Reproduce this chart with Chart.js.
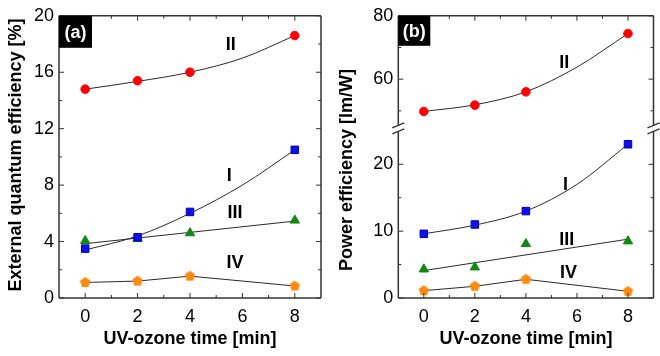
<!DOCTYPE html>
<html><head><meta charset="utf-8">
<script src="https://cdn.jsdelivr.net/npm/chart.js@4.4.1/dist/chart.umd.min.js"></script>
<style>
html,body{margin:0;padding:0;background:#fff;}
#wrap{position:relative;width:660px;height:356px;overflow:hidden;background:#fff;}
canvas{position:absolute;top:0;}
</style></head><body>
<div id="wrap">
<canvas id="ca" width="330" height="356" style="left:0"></canvas>
<canvas id="cb" width="330" height="356" style="left:330px"></canvas>
</div>
<script>
// ---- data ----
const xValues = [0, 2, 4, 8];
const fitX = [0, 8];
const curveX = [0, 2, 4, 6, 8];
// (a) external quantum efficiency [%]
const eqeI = [3.5, 4.3, 6.1, 10.5];
const eqeIfit = [3.4, 4.4, 6.0, 8.0, 10.5];
const eqeII = [14.8, 15.4, 16.0, 18.6];
const eqeIIfit = [14.8, 15.35, 16.0, 17.0, 18.6];
const eqeIII = [4.05, 4.2, 4.6, 5.5];
const eqeIIIfit = [3.85, 5.45];
const eqeIV = [1.1, 1.2, 1.55, 0.85];
// (b) power efficiency [lm/W]
const peI = [9.6, 11.0, 13.0, 23.0];
const peIfit = [9.6, 10.9, 13.0, 17.0, 23.0];
const peII = [49.8, 51.8, 56.0, 74.4];
const peIIfit = [49.8, 51.9, 56.0, 63.8, 74.4];
const peIII = [4.3, 4.6, 8.1, 8.5];
const peIIIfit = [4.1, 8.8];
const peIV = [1.1, 1.75, 2.8, 1.0];
// ticks
const xTicks = [0, 2, 4, 6, 8];
const xMinorTicks = [1, 3, 5, 7];
const eqeTicks = [0, 4, 8, 12, 16, 20];
const eqeMinorTicks = [2, 6, 10, 14, 18];
const peLowTicks = [0, 10, 20];
const peLowMinorTicks = [5, 15];
const peUpTicks = [60, 80];
const peUpMinorTicks = [50, 70];
const seriesNames = ['I', 'II', 'III', 'IV'];

const FONT = "'Liberation Sans', Arial, sans-serif";
Chart.defaults.font.family = FONT;
Chart.defaults.color = '#000';

function pentagon(color, r) {
  const c = document.createElement('canvas');
  const s = Math.ceil(r * 2 + 2); c.width = s; c.height = s;
  const g = c.getContext('2d');
  g.beginPath();
  for (let i = 0; i < 5; i++) {
    const a = -Math.PI / 2 + i * 2 * Math.PI / 5;
    const px = s / 2 + r * Math.cos(a), py = s / 2 + r * Math.sin(a);
    if (i) g.lineTo(px, py); else g.moveTo(px, py);
  }
  g.closePath(); g.fillStyle = color; g.fill();
  return c;
}
const pts = (ys, xs) => ys.map((y, i) => ({ x: (xs || xValues)[i], y }));
const setTicks = arr => s => { s.ticks = arr.map(v => ({ value: v })); };

const LINE = '#2a2a2a';
const RED = '#ff0000', BLUE = '#1010ee', GREEN = '#118811', ORANGE = '#ff8a10';
const pent = pentagon(ORANGE, 5.5);

function makeDatasets(d, ids) {
  const yLow = ids.low, yUp = ids.up;
  const fit = (data, yAxisID, label, mono) => ({ label, data, yAxisID, showLine: true, borderColor: LINE, borderWidth: 1,
    pointRadius: 0, cubicInterpolationMode: mono ? 'monotone' : 'default', tension: 0 });
  return [
    { label: seriesNames[1], data: pts(d.II), yAxisID: yUp, showLine: false, pointStyle: 'circle', pointRadius: 4.3,
      pointBackgroundColor: RED, pointBorderColor: RED, pointBorderWidth: 1 },
    { label: seriesNames[0], data: pts(d.I), yAxisID: yLow, showLine: false, pointStyle: 'rect', pointRadius: 5.3,
      pointBackgroundColor: BLUE, pointBorderColor: '#0000aa', pointBorderWidth: 1 },
    { label: seriesNames[2], data: pts(d.III), yAxisID: yLow, showLine: false, pointStyle: 'triangle', pointRadius: 5.4,
      pointBackgroundColor: GREEN, pointBorderColor: GREEN, pointBorderWidth: 1 },
    { label: seriesNames[3], data: pts(d.IV), yAxisID: yLow, showLine: true, borderColor: LINE, borderWidth: 1,
      tension: 0, pointStyle: pent, pointRadius: 5.5 },
    fit(pts(d.IIfit, curveX), yUp, seriesNames[1] + ' fit', true),
    fit(pts(d.Ifit, curveX), yLow, seriesNames[0] + ' fit', true),
    fit(pts(d.IIIfit, fitX), yLow, seriesNames[2] + ' fit', false)
  ];
}

// ---- plugins ----
const framePlugin = {
  id: 'frame',
  afterDatasetsDraw(chart, args, o) {
    const { ctx, chartArea: ca } = chart;
    const xs = chart.scales.x;
    ctx.save();
    ctx.strokeStyle = '#333';
    const line = (x1, y1, x2, y2) => { ctx.beginPath(); ctx.moveTo(x1, y1); ctx.lineTo(x2, y2); ctx.stroke(); };
    ctx.lineWidth = 1;
    xTicks.forEach(v => { const p = xs.getPixelForValue(v); line(p, ca.bottom, p, ca.bottom - 5); line(p, ca.top, p, ca.top + 5); });
    xMinorTicks.forEach(v => { const p = xs.getPixelForValue(v); line(p, ca.bottom, p, ca.bottom - 3); line(p, ca.top, p, ca.top + 3); });
    o.yScales.forEach(d => {
      const s = chart.scales[d.id];
      d.major.forEach(v => { const p = s.getPixelForValue(v); line(ca.left, p, ca.left + 5, p); line(ca.right, p, ca.right - 5, p); });
      d.minor.forEach(v => { const p = s.getPixelForValue(v); line(ca.left, p, ca.left + 3, p); line(ca.right, p, ca.right - 3, p); });
    });
    ctx.lineWidth = 1.5;
    line(ca.left, ca.top, ca.right, ca.top);
    line(ca.left, ca.bottom, ca.right, ca.bottom);
    if (o.breakAt) {
      const yb = chart.scales[o.breakAt].top;
      const g = 3;
      [ca.left, ca.right].forEach(x => {
        line(x, ca.top, x, yb - g);
        line(x, yb + g, x, ca.bottom);
        ctx.lineWidth = 1.2;
        line(x - 6, yb - g + 2, x + 6, yb - g - 3);
        line(x - 6, yb + g + 2, x + 6, yb + g - 3);
        ctx.lineWidth = 1.5;
      });
    } else {
      line(ca.left, ca.top, ca.left, ca.bottom);
      line(ca.right, ca.top, ca.right, ca.bottom);
    }
    // panel tag
    ctx.fillStyle = '#000';
    ctx.fillRect(ca.left, ca.top, o.tag.w, o.tag.h);
    ctx.fillStyle = '#fff';
    ctx.font = 'bold 18px ' + FONT;
    ctx.textAlign = 'center'; ctx.textBaseline = 'middle';
    ctx.fillText(o.tag.text, ca.left + o.tag.w / 2, ca.top + o.tag.h / 2 + 1);
    // series labels
    ctx.fillStyle = '#000';
    ctx.font = 'bold 18px ' + FONT;
    o.labels.forEach(l => {
      ctx.fillText(l.text, xs.getPixelForValue(l.x), chart.scales[l.scale].getPixelForValue(l.y));
    });
    // y title
    ctx.save();
    ctx.translate(o.yTitle.x, o.yTitle.y);
    ctx.rotate(-Math.PI / 2);
    ctx.font = 'bold ' + o.yTitle.size + 'px ' + FONT;
    ctx.fillText(o.yTitle.text, 0, 0);
    ctx.restore();
    ctx.restore();
  }
};

const xScale = {
  type: 'linear', min: -1, max: 9,
  afterBuildTicks: setTicks(xTicks),
  afterFit: s => { s.height = 58; },
  grid: { display: false, drawTicks: false }, border: { display: false },
  ticks: { font: { size: 18 }, color: '#000', padding: 8 },
  title: { display: true, text: 'UV-ozone time [min]', color: '#000', font: { size: 18, weight: 'bold' }, padding: { top: 4, bottom: 6 } }
};
function yScale(min, max, ticks, width, extra) {
  return Object.assign({
    type: 'linear', position: 'left', min, max,
    afterBuildTicks: setTicks(ticks),
    afterFit: s => { s.width = width; },
    grid: { display: false, drawTicks: false }, border: { display: false },
    ticks: { font: { size: 18 }, color: '#000', padding: 5 },
    title: { display: false }
  }, extra || {});
}

const common = {
  responsive: false, animation: false, devicePixelRatio: 1,
  plugins: { legend: { display: false }, tooltip: { enabled: false } },
  elements: { line: { fill: false } }
};

new Chart(document.getElementById('ca'), {
  type: 'scatter',
  data: { datasets: makeDatasets({ I: eqeI, Ifit: eqeIfit, II: eqeII, IIfit: eqeIIfit, III: eqeIII, IIIfit: eqeIIIfit, IV: eqeIV }, { low: 'y', up: 'y' }) },
  options: Object.assign({}, common, {
    layout: { padding: { left: 0, top: 15, right: 9, bottom: 0 } },
    scales: { x: xScale, y: yScale(0, 20, eqeTicks, 59) },
    plugins: Object.assign({}, common.plugins, {
      frame: {
        yScales: [{ id: 'y', major: eqeTicks, minor: eqeMinorTicks }],
        tag: { text: '(a)', w: 33, h: 32 },
        labels: [
          { text: seriesNames[1], x: 5.56, y: 17.95, scale: 'y' },
          { text: seriesNames[0], x: 5.5, y: 8.64, scale: 'y' },
          { text: seriesNames[2], x: 5.72, y: 6.0, scale: 'y' },
          { text: seriesNames[3], x: 5.72, y: 2.5, scale: 'y' }
        ],
        yTitle: { text: 'External quantum efficiency [%]', x: 16, y: 155, size: 18 }
      }
    })
  }),
  plugins: [framePlugin]
});

new Chart(document.getElementById('cb'), {
  type: 'scatter',
  data: { datasets: makeDatasets({ I: peI, Ifit: peIfit, II: peII, IIfit: peIIfit, III: peIII, IIIfit: peIIIfit, IV: peIV }, { low: 'yLow', up: 'yUp' }) },
  options: Object.assign({}, common, {
    layout: { padding: { left: 0, top: 15, right: 2, bottom: 0 } },
    scales: {
      x: xScale,
      yUp: yScale(44.3, 80, peUpTicks, 68.3, { stack: 'pe', stackWeight: 113.4, weight: 1 }),
      yLow: yScale(0, 25.3, peLowTicks, 68.3, { stack: 'pe', stackWeight: 169.6, weight: 0 })
    },
    plugins: Object.assign({}, common.plugins, {
      frame: {
        yScales: [
          { id: 'yUp', major: peUpTicks, minor: peUpMinorTicks },
          { id: 'yLow', major: peLowTicks, minor: peLowMinorTicks }
        ],
        breakAt: 'yLow',
        tag: { text: '(b)', w: 32, h: 30 },
        labels: [
          { text: seriesNames[1], x: 5.5, y: 65.1, scale: 'yUp' },
          { text: seriesNames[0], x: 5.55, y: 16.9, scale: 'yLow' },
          { text: seriesNames[2], x: 5.6, y: 8.66, scale: 'yLow' },
          { text: seriesNames[3], x: 5.67, y: 3.73, scale: 'yLow' }
        ],
        yTitle: { text: 'Power efficiency [lm/W]', x: 17, y: 170, size: 18 }
      }
    })
  }),
  plugins: [framePlugin]
});
</script>
</body></html>
